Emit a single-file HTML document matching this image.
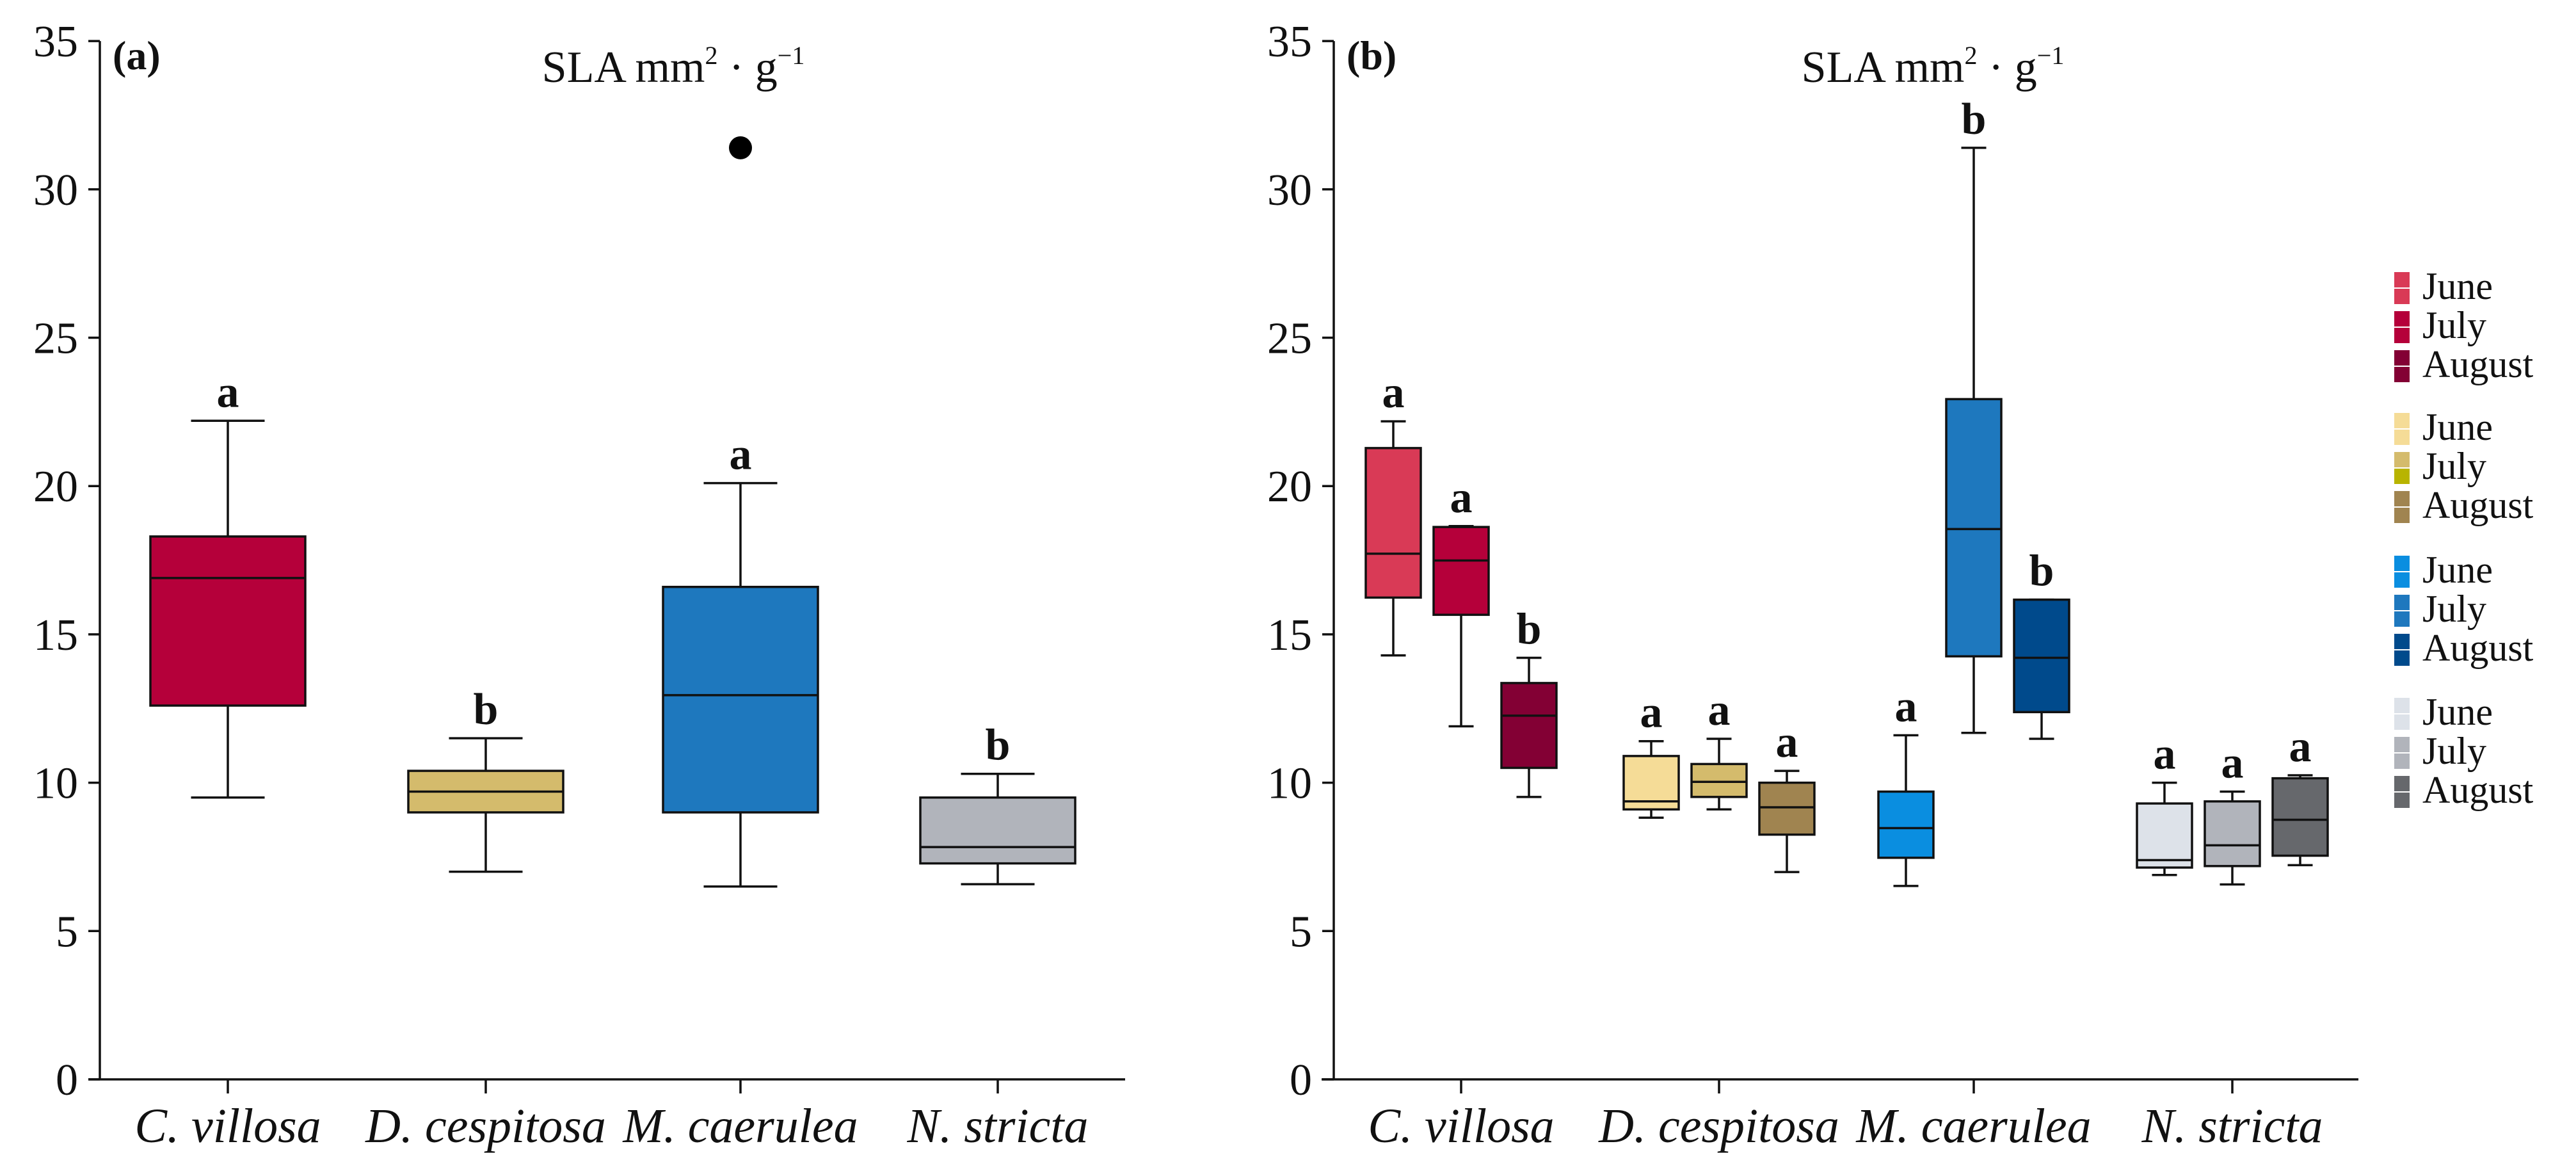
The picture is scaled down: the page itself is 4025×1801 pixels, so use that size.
<!DOCTYPE html>
<html><head><meta charset="utf-8"><style>
html,body{margin:0;padding:0;background:#fff;}
svg{display:block;font-family:"Liberation Serif",serif;}
</style></head><body>
<svg id="chart" width="4025" height="1801" viewBox="0 0 4025 1801" xmlns="http://www.w3.org/2000/svg"></svg>
<script>
const categories = ["C. villosa","D. cespitosa","M. caerulea","N. stricta"];
const yTicks = [0,5,10,15,20,25,30,35];
// panel (a): [lowWhisker, Q1, median, Q3, highWhisker]
const aStats = [
  [9.5,12.6,16.9,18.3,22.2],
  [7.0,9.0,9.7,10.4,11.5],
  [6.5,9.0,12.95,16.6,20.1],
  [6.58,7.28,7.83,9.5,10.3]
];
const aLetters = ["a","b","a","b"];
const aOutliers = [[2,31.4]];
const aColors = ["#b5003a","#d4bb6c","#1e78be","#b1b4bb"];
// panel (b): per category, per month [low, Q1, median, Q3, high]
const months = ["June","July","August"];
const bStats = [
  [[14.29,16.24,17.72,21.28,22.18],[11.9,15.66,17.49,18.62,18.65],[9.52,10.5,12.26,13.36,14.21]],
  [[8.82,9.1,9.37,10.9,11.4],[9.1,9.52,10.03,10.63,11.48],[6.99,8.25,9.17,10.0,10.4]],
  [[6.52,7.47,8.47,9.7,11.6],[11.68,14.26,18.55,22.93,31.4],[11.48,12.38,14.21,16.17,16.17]],
  [[6.89,7.14,7.39,9.3,10.0],[6.57,7.19,7.89,9.37,9.7],[7.22,7.54,8.75,10.15,10.25]]
];
const bLetters = [["a","a","b"],["a","a","a"],["a","b","b"],["a","a","a"]];
const bColors = [["#d93a56","#b5003a","#830034"],["#f5dc97","#d4bb6c","#a08450"],["#0a8ee0","#1e78be","#004a8c"],["#dde2e9","#b1b4bb","#66686c"]];
const legendBottom = [["#d93a56","#b5003a","#830034"],["#f5dc97","#b8b400","#a08450"],["#0a8ee0","#1e78be","#004a8c"],["#dde2e9","#b1b4bb","#66686c"]];

const NS="http://www.w3.org/2000/svg";
const svg=document.getElementById('chart');
function el(tag,attrs,parent){const e=document.createElementNS(NS,tag);for(const k in attrs)e.setAttribute(k,attrs[k]);(parent||svg).appendChild(e);return e;}
function y(v){return 1686-v*46.34;}

function axes(ax,x0,x1,centers,label,titleX,prefix){
  const g=el('g',{});
  
  
  el('line',{x1:ax,y1:y(35),x2:ax,y2:y(0)+1,stroke:'#111','stroke-width':3.5},g);
  el('line',{x1:x0,y1:y(0),x2:x1,y2:y(0),stroke:'#111','stroke-width':3.5},g);
  yTicks.forEach(t=>{
    el('line',{x1:ax-18,y1:y(t),x2:ax,y2:y(t),stroke:'#111','stroke-width':3.5},g);
    const tx=el('text',{x:ax-34,y:y(t)+24,'text-anchor':'end','font-size':70,fill:'#111'},g);
    tx.textContent=t;
    
    
  });
  centers.forEach((c,i)=>{
    el('line',{x1:c,y1:y(0),x2:c,y2:y(0)+22,stroke:'#111','stroke-width':3.5},g);
    const tx=el('text',{x:c,y:1784,'text-anchor':'middle','font-size':76,'font-style':'italic',fill:'#111'},g);
    tx.textContent=categories[i];
    
    
  });
  const pl=el('text',{x:ax+20,y:y(35)+44,'font-size':64,'font-weight':'bold',fill:'#111'},g);
  pl.textContent=label;
  
  
  const tt=el('text',{x:titleX,y:128,'text-anchor':'middle','font-size':70,fill:'#111'},g);
  tt.innerHTML='SLA mm<tspan font-size="40" dy="-28">2</tspan><tspan dy="28"> · g</tspan><tspan font-size="40" dy="-28">−1</tspan>';
  
  
}

function box(cx,w,cap,s,color,letter,name){
  const g=el('g',{});
  
  
  el('line',{x1:cx,y1:y(s[4]),x2:cx,y2:y(s[3]),stroke:'#111','stroke-width':3.5},g);
  el('line',{x1:cx,y1:y(s[1]),x2:cx,y2:y(s[0]),stroke:'#111','stroke-width':3.5},g);
  el('line',{x1:cx-cap/2,y1:y(s[4]),x2:cx+cap/2,y2:y(s[4]),stroke:'#111','stroke-width':3.5},g);
  el('line',{x1:cx-cap/2,y1:y(s[0]),x2:cx+cap/2,y2:y(s[0]),stroke:'#111','stroke-width':3.5},g);
  el('rect',{x:cx-w/2,y:y(s[3]),width:w,height:y(s[1])-y(s[3]),fill:color,stroke:'#111','stroke-width':3.5},g);
  el('line',{x1:cx-w/2,y1:y(s[2]),x2:cx+w/2,y2:y(s[2]),stroke:'#111','stroke-width':3.5},g);
  const t=el('text',{x:cx,y:y(s[4])-22,'text-anchor':'middle','font-size':70,'font-weight':'bold',fill:'#111'},g);
  t.textContent=letter;
  
  
}

// Panel a
const aCenters=[356,759,1157,1559];
axes(156,138,1758,aCenters,'(a)',1052,'panel-a');
aStats.forEach((s,i)=>box(aCenters[i],242,115,s,aColors[i],aLetters[i],'panel-a-box-'+i));
aOutliers.forEach(o=>{
  const c=el('circle',{cx:aCenters[o[0]],cy:y(o[1]),r:18,fill:'#000'});
  
  
});

// Panel b
const bCenters=[2283,2686,3084,3488];
axes(2084,2065,3685,bCenters,'(b)',3020,'panel-b');
bStats.forEach((grp,i)=>grp.forEach((s,j)=>box(bCenters[i]+(j-1)*106,86,39,s,bColors[i][j],bLetters[i][j],'panel-b-box-'+i+'-'+j)));

// Legend
const lg=el('g',{});


const groupTop=[425,645,868,1090];
bColors.forEach((grp,i)=>grp.forEach((c,j)=>{
  const yy=groupTop[i]+j*61;
  const e=el('g',{},lg);
  
  
  el('rect',{x:3741,y:yy,width:24,height:24,fill:c},e);
  el('rect',{x:3741,y:yy+26,width:24,height:24,fill:legendBottom[i][j]},e);
  const t=el('text',{x:3785,y:yy+42,'font-size':60,fill:'#111'},e);
  t.textContent=months[j];
}));
</script>
</body></html>
